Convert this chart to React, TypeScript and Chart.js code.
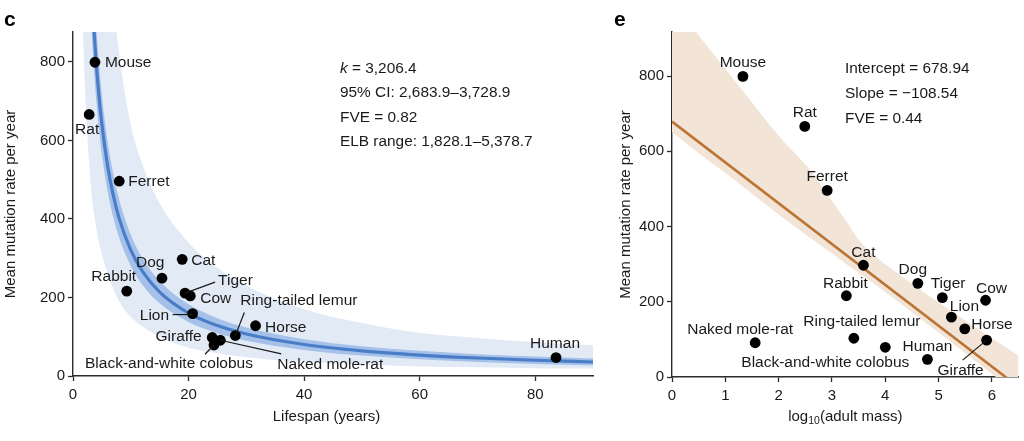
import React, { useEffect, useRef } from "react";
import { Chart, registerables } from "chart.js";

Chart.register(...registerables);

// ---------- data ----------
const species = [
  "Mouse", "Rat", "Ferret", "Dog", "Cat", "Rabbit", "Tiger", "Cow", "Lion",
  "Horse", "Ring-tailed lemur", "Giraffe", "Naked mole-rat", "Black-and-white colobus", "Human",
];
const mutationRate = [799, 666, 496, 249, 297, 216, 211, 204, 159, 128, 103, 98, 91, 79, 47];
const lifespanYears = [3.8, 2.8, 8.0, 15.4, 18.9, 9.3, 19.4, 20.3, 20.7, 31.6, 28.1, 24.1, 25.5, 24.4, 83.6];
const log10AdultMass = [1.33, 2.49, 2.91, 4.61, 3.59, 3.27, 5.07, 5.88, 5.24, 5.49, 3.41, 5.9, 1.56, 4.0, 4.79];

// panel c: fitted curve and its bands
const fitX = [3, 3.5, 4, 4.5, 5, 6, 7, 8, 10, 12, 15, 20, 25, 30, 40, 50, 60, 70, 80, 90];
const fitY = [1068.8, 916.1, 801.6, 712.5, 641.3, 534.4, 458.1, 400.8, 320.6, 267.2, 213.8, 160.3, 128.3, 106.9, 80.2, 64.1, 53.4, 45.8, 40.1, 35.6];
const ciLowY = [945, 809.3, 707.5, 628.3, 565, 470, 402.1, 351.3, 280, 232.5, 185, 137.5, 109, 90, 66.3, 52, 42.5, 35.7, 30.6, 26.7];
const ciHighY = [1188.3, 1019.3, 892.5, 793.9, 715, 596.7, 512.1, 448.8, 360, 300.8, 241.7, 182.5, 147, 123.3, 93.8, 76, 64.2, 55.7, 49.4, 44.4];

const rangeX = [1.5, 2, 3, 4, 5, 7, 8, 10, 12, 15, 20, 25, 30, 40, 50, 60, 70, 80, 90];
const rangeLowY = [1000, 760, 500, 380, 310, 220, 190, 150, 126, 100, 72, 58, 48, 36, 29, 24, 22, 20, 19];
const rangeHighY = [4500, 3400, 2270, 1700, 1360, 960, 820, 640, 540, 440, 340, 275, 230, 170, 135, 110, 97, 86, 78];

// panel e: regression line and its band
const regX = [0, 6.5];
const regY = [678.94, -26.57];
const bandX = [0, 0.45, 1, 1.46, 2, 2.61, 3, 3.25, 3.5, 3.7, 4, 4.5, 5, 5.5, 6, 6.5];
const bandHighY = [997, 917, 819, 737, 641, 546, 468, 418, 365, 335, 300, 248, 198, 150, 103, 56];
const bandLowY = [651, 601, 542, 492, 432, 368, 328, 302, 277, 257, 226, 172, 118, 63, 8, -46];

const lifespanTicks = [0, 20, 40, 60, 80];
const massTicks = [0, 1, 2, 3, 4, 5, 6];
const rateTicks = [0, 200, 400, 600, 800];

const textC = ["k", " = 3,206.4", "95% CI: 2,683.9\u20133,728.9", "FVE = 0.82", "ELB range: 1,828.1\u20135,378.7"];
const textE = ["Intercept = 678.94", "Slope = \u2212108.54", "FVE = 0.44"];

// ---------- label placement (pixel offsets from each dot) ----------
type Place = { dx: number; dy: number; align: CanvasTextAlign; leader?: number[] };
const placeC: Record<string, Place> = {
  "Mouse": { dx: 10, dy: 0.5, align: "left" },
  "Rat": { dx: -2, dy: 15.5, align: "center" },
  "Ferret": { dx: 9, dy: 0.5, align: "left" },
  "Dog": { dx: 2.5, dy: -15.5, align: "right" },
  "Cat": { dx: 9, dy: 1, align: "left" },
  "Rabbit": { dx: -13, dy: -14, align: "center" },
  "Tiger": { dx: 33, dy: -12.5, align: "left", leader: [0, 0, 30, -11] },
  "Cow": { dx: 10, dy: 2.5, align: "left" },
  "Lion": { dx: -23.5, dy: 2.5, align: "right", leader: [-20, 1, 0, 1] },
  "Horse": { dx: 9.5, dy: 1.5, align: "left" },
  "Ring-tailed lemur": { dx: 5, dy: -35, align: "left", leader: [0, 0, 9, -23] },
  "Giraffe": { dx: -10.5, dy: -0.5, align: "right" },
  "Naked mole-rat": { dx: 57, dy: 24, align: "left", leader: [0, 0, 61, 13.6] },
  "Black-and-white colobus": { dx: -45, dy: 19, align: "center", leader: [-9, 9.3, 0, 0] },
  "Human": { dx: -1, dy: -13.5, align: "center" },
};
const placeE: Record<string, Place> = {
  "Mouse": { dx: 0, dy: -14, align: "center" },
  "Rat": { dx: 0, dy: -13.5, align: "center" },
  "Ferret": { dx: 0, dy: -14, align: "center" },
  "Cat": { dx: 0, dy: -13, align: "center" },
  "Dog": { dx: -5, dy: -13.5, align: "center" },
  "Rabbit": { dx: -1, dy: -12.5, align: "center" },
  "Tiger": { dx: 5.7, dy: -13.5, align: "center" },
  "Cow": { dx: 6, dy: -12, align: "center" },
  "Lion": { dx: 13, dy: -10.5, align: "center" },
  "Horse": { dx: 6.6, dy: -4, align: "left" },
  "Giraffe": { dx: -26, dy: 31, align: "center", leader: [-24, 20, 0, 0] },
  "Naked mole-rat": { dx: -15, dy: -13.5, align: "center" },
  "Ring-tailed lemur": { dx: 8, dy: -17, align: "center" },
  "Black-and-white colobus": { dx: -60, dy: 15.5, align: "center" },
  "Human": { dx: 0, dy: -13, align: "center" },
};

const FONT = '"Liberation Sans", Arial, Helvetica, sans-serif';
const INK = "#1a1a1a";
const AXIS = "#2b2b2b";

const pts = (xs: number[], ys: number[]) => xs.map((x, i) => ({ x, y: ys[i] }));

function labelPlugin(place: Record<string, Place>) {
  return {
    id: "pointLabels",
    afterDatasetsDraw(chart: any) {
      const meta = chart.getDatasetMeta(0);
      const ctx: CanvasRenderingContext2D = chart.ctx;
      ctx.save();
      ctx.font = `15.5px ${FONT}`;
      ctx.fillStyle = INK;
      ctx.strokeStyle = INK;
      ctx.lineWidth = 1.2;
      ctx.textBaseline = "middle";
      species.forEach((name, i) => {
        const el = meta.data[i];
        const p = place[name];
        if (!el || !p) return;
        if (p.leader) {
          ctx.beginPath();
          ctx.moveTo(el.x + p.leader[0], el.y + p.leader[1]);
          ctx.lineTo(el.x + p.leader[2], el.y + p.leader[3]);
          ctx.stroke();
        }
        ctx.textAlign = p.align;
        ctx.fillText(name, el.x + p.dx, el.y + p.dy);
      });
      ctx.restore();
    },
  };
}

function decorPlugin(kind: "c" | "e") {
  return {
    id: "decor",
    afterDraw(chart: any) {
      const ctx: CanvasRenderingContext2D = chart.ctx;
      const a = chart.chartArea;
      ctx.save();
      ctx.fillStyle = "#000";
      ctx.textBaseline = "middle";
      ctx.textAlign = "left";
      // panel letter
      ctx.font = `bold 21px ${FONT}`;
      ctx.fillText(kind, kind === "c" ? 4 : 2, 20);
      ctx.fillStyle = INK;
      // y title
      ctx.font = `15px ${FONT}`;
      ctx.save();
      ctx.translate(kind === "c" ? 10.5 : 14, (a.top + a.bottom) / 2);
      ctx.rotate(-Math.PI / 2);
      ctx.textAlign = "center";
      ctx.fillText("Mean mutation rate per year", 0, 0);
      ctx.restore();
      // x title
      const cx = kind === "c" ? 326.5 : (a.left + a.right) / 2;
      const ty = 416.5;
      if (kind === "c") {
        ctx.textAlign = "center";
        ctx.fillText("Lifespan (years)", cx, ty);
      } else {
        const s1 = "log";
        const s2 = "10";
        const s3 = "(adult mass)";
        ctx.font = `15px ${FONT}`;
        const w1 = ctx.measureText(s1).width;
        const w3 = ctx.measureText(s3).width;
        ctx.font = `10.5px ${FONT}`;
        const w2 = ctx.measureText(s2).width;
        let x = cx - (w1 + w2 + w3) / 2;
        ctx.textAlign = "left";
        ctx.font = `15px ${FONT}`;
        ctx.fillText(s1, x, ty);
        x += w1;
        ctx.font = `10.5px ${FONT}`;
        ctx.fillText(s2, x, ty + 5);
        x += w2;
        ctx.font = `15px ${FONT}`;
        ctx.fillText(s3, x, ty);
      }
      // annotation text
      ctx.textAlign = "left";
      if (kind === "c") {
        const x0 = 340;
        ctx.font = `italic 15.4px ${FONT}`;
        ctx.fillText(textC[0], x0, 68.5);
        const wk = ctx.measureText(textC[0]).width;
        ctx.font = `15.4px ${FONT}`;
        ctx.fillText(textC[1], x0 + wk, 68.5);
        ctx.fillText(textC[2], x0, 93);
        ctx.fillText(textC[3], x0, 117.5);
        ctx.fillText(textC[4], x0, 142);
      } else {
        const x0 = 845 - 612;
        ctx.font = `15.4px ${FONT}`;
        ctx.fillText(textE[0], x0, 68.5);
        ctx.fillText(textE[1], x0, 93.5);
        ctx.fillText(textE[2], x0, 118.5);
      }
      ctx.restore();
    },
  };
}

function axisOpts(min: number, max: number, tickVals: number[], fixed: { width?: number; height?: number }, pad: number) {
  return {
    type: "linear" as const,
    min,
    max,
    afterBuildTicks: (s: any) => {
      s.ticks = tickVals.map((v) => ({ value: v }));
    },
    afterFit: (s: any) => {
      if (fixed.width !== undefined) s.width = fixed.width;
      if (fixed.height !== undefined) s.height = fixed.height;
    },
    ticks: {
      color: INK,
      font: { size: 15, family: FONT },
      padding: pad,
      maxRotation: 0,
      autoSkip: false,
    },
    grid: {
      display: true,
      drawOnChartArea: false,
      drawTicks: true,
      tickLength: 5,
      tickColor: AXIS,
      tickWidth: 1.3,
    },
    border: { display: true, color: AXIS, width: 1.4 },
    title: { display: false },
  };
}

function baseOptions(padding: any, x: any, y: any) {
  return {
    responsive: false,
    animation: false as const,
    events: [] as any[],
    layout: { padding },
    plugins: { legend: { display: false }, tooltip: { enabled: false } },
    scales: { x, y },
  };
}

const pointDataset = (xs: number[]) => ({
  type: "line" as const,
  data: pts(xs, mutationRate),
  showLine: false,
  pointRadius: 5.4,
  pointHoverRadius: 5.4,
  pointBackgroundColor: "#000",
  pointBorderWidth: 0,
  order: 0,
});

const bandDataset = (xs: number[], ys: number[], fill: any, color: string) => ({
  type: "line" as const,
  data: pts(xs, ys),
  borderWidth: 0,
  pointRadius: 0,
  backgroundColor: color,
  fill,
  cubicInterpolationMode: "monotone" as const,
});

export default function App() {
  const leftRef = useRef<HTMLCanvasElement>(null);
  const rightRef = useRef<HTMLCanvasElement>(null);

  useEffect(() => {
    const left = new Chart(leftRef.current as HTMLCanvasElement, {
      type: "line",
      data: {
        datasets: [
          pointDataset(lifespanYears),
          {
            type: "line",
            data: pts(fitX, fitY),
            borderColor: "#4a7dc8",
            borderWidth: 3.2,
            pointRadius: 0,
            fill: false,
            clip: 0,
            cubicInterpolationMode: "monotone",
          },
          bandDataset(fitX, ciLowY, 3, "#a6c1e9"),
          bandDataset(fitX, ciHighY, false, "#a6c1e9"),
          bandDataset(rangeX, rangeLowY, 5, "#e2eaf6"),
          bandDataset(rangeX, rangeHighY, false, "#e2eaf6"),
        ] as any,
      },
      options: baseOptions(
        { top: 32, right: 17, left: 0, bottom: 0 },
        axisOpts(0, 90, lifespanTicks, { height: 65 }, 5),
        axisOpts(0, 876, rateTicks, { width: 73 }, 3)
      ) as any,
      plugins: [labelPlugin(placeC), decorPlugin("c")],
    });

    const right = new Chart(rightRef.current as HTMLCanvasElement, {
      type: "line",
      data: {
        datasets: [
          pointDataset(log10AdultMass),
          {
            type: "line",
            data: pts(regX, regY),
            borderColor: "#bb7433",
            borderWidth: 2.6,
            pointRadius: 0,
            fill: false,
            clip: 0,
          },
          bandDataset(bandX, bandLowY, 3, "#f2e4d6"),
          bandDataset(bandX, bandHighY, false, "#f2e4d6"),
        ] as any,
      },
      options: baseOptions(
        { top: 32, right: 2, left: 0, bottom: 0 },
        axisOpts(0, 6.5, massTicks, { height: 64 }, 5),
        axisOpts(0, 917, rateTicks, { width: 60 }, 3)
      ) as any,
      plugins: [labelPlugin(placeE), decorPlugin("e")],
    });

    return () => {
      left.destroy();
      right.destroy();
    };
  }, []);

  return (
    <div style={{ position: "absolute", left: 0, top: 0, width: 1024, height: 441, background: "#fff", overflow: "hidden" }}>
      <canvas ref={leftRef} width={610} height={441} style={{ position: "absolute", left: 0, top: 0 }} />
      <canvas ref={rightRef} width={412} height={441} style={{ position: "absolute", left: 612, top: 0 }} />
    </div>
  );
}
